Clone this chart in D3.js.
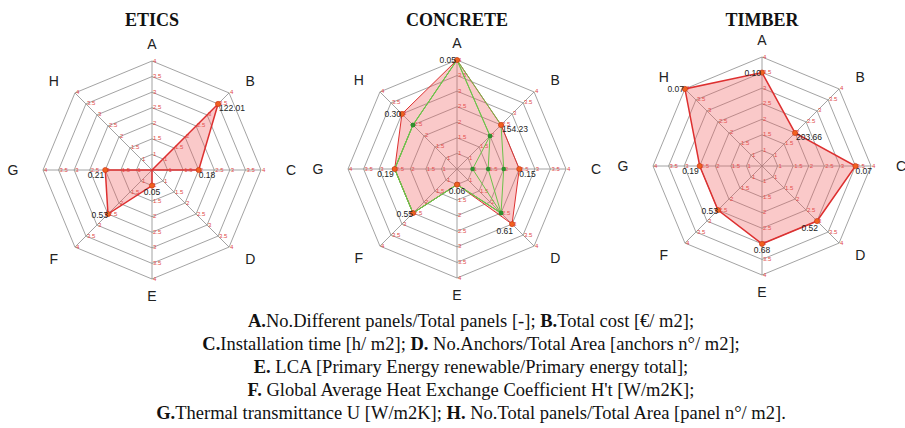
<!DOCTYPE html>
<html>
<head>
<meta charset="utf-8">
<script src="https://cdn.jsdelivr.net/npm/d3@7"></script>
<style>
  body { margin: 0; background: #fff; }
  svg { display: block; }
  .grid { fill: none; stroke: #8c8c8c; stroke-width: 0.8; }
  .spoke { stroke: #8c8c8c; stroke-width: 0.8; }
  .tick { fill: #e04848; font: 6px 'Liberation Sans', Arial, sans-serif; }
  .axis-letter { fill: #222; font: 14px 'Liberation Sans', Arial, sans-serif; }
  .title { font: bold 18px 'Liberation Serif', 'Times New Roman', serif; fill: #111; }
  .value { fill: #222; font: 8.5px 'Liberation Sans', Arial, sans-serif; }
  .caption { font: 18.5px 'Liberation Serif', 'Times New Roman', serif; fill: #111; }
</style>
</head>
<body>
<svg id="chart" width="905" height="428"></svg>
<script>
// axes and ring ticks
const axes = ['A', 'B', 'C', 'D', 'E', 'F', 'G', 'H'];
const ticks = [1, 1.5, 2, 2.5, 3, 3.5, 4];

// plotted scores (0.5 = centre) and the value printed next to each point
const eticsScore = [0.5, 3.5, 2, 0.5, 1, 2.5, 2, 0.5];
const eticsLabels = [null, '122.01', '0.18', null, '0.05', '0.53', '0.21', null];

const concreteScore = [4, 2.5, 2.5, 3, 1, 2.5, 2.5, 3];
const concreteLabels = ['0.05', '154.23', '0.15', '0.61', '0.06', '0.55', '0.19', '0.30'];
const concreteAlt1 = [4, 2.5, 2, 2.5, 1, 2.5, 2.5, 2.5];
const concreteAlt2 = [4, 2, 1.5, 2.5, 1, 2.5, 2.5, 2.5];
const concreteAlt3 = [4, 2, 1, 2.5, 1, 2.5, 2.5, 2.5];

const timberScore = [3.5, 2, 3.5, 3, 3, 2.5, 2.5, 4];
const timberLabels = ['0.10', '203.66', '0.07', '0.52', '0.68', '0.53', '0.19', '0.07'];

const captionLines = [
    [['A.', true], ['No.Different panels/Total panels [-]; ', false], ['B.', true], ['Total cost [€/ m2];', false]],
    [['C.', true], ['Installation time [h/ m2]; ', false], ['D.', true], [' No.Anchors/Total Area [anchors n°/ m2];', false]],
    [['E.', true], [' LCA [Primary Energy renewable/Primary energy total];', false]],
    [['F.', true], [' Global Average Heat Exchange Coefficient H\'t [W/m2K];', false]],
    [['G.', true], ['Thermal transmittance U [W/m2K]; ', false], ['H.', true], [' No.Total panels/Total Area [panel n°/ m2].', false]]
];

// where the value text sits relative to its point, per axis
const valuePos = [
    { anchor: 'end', dx: -1, dy: 3 },
    { anchor: 'start', dx: 1, dy: 7 },
    { anchor: 'start', dx: 0, dy: 8 },
    { anchor: 'end', dx: 1, dy: 10 },
    { anchor: 'middle', dx: 0, dy: 9 },
    { anchor: 'end', dx: 0, dy: 4 },
    { anchor: 'end', dx: -1, dy: 8 },
    { anchor: 'end', dx: -1, dy: 3 }
];

const svg = d3.select('#chart');
const R = 109;
const r = d3.scaleLinear().domain([0.5, 4]).range([0, R]);
const angle = d3.scaleLinear().domain([0, axes.length]).range([0, 2 * Math.PI]);

function pt(i, v) {
    const a = angle(i);
    return [Math.sin(a) * r(v), -Math.cos(a) * r(v)];
}

const radial = d3.lineRadial()
    .angle(function(d, i) { return angle(i); })
    .radius(function(d) { return r(d); })
    .curve(d3.curveLinearClosed);

function radar(cx, cy, title, score, labels, alts) {
    const g = svg.append('g').attr('transform', `translate(${cx}, ${cy})`);

    svg.append('text')
        .attr('class', 'title')
        .attr('x', cx)
        .attr('y', 26)
        .attr('text-anchor', 'middle')
        .text(title);

    // octagon rings
    g.selectAll('.grid')
        .data(ticks)
        .join('path')
        .attr('class', 'grid')
        .attr('d', function(t) { return radial(axes.map(() => t)); });

    g.selectAll('.spoke')
        .data(axes)
        .join('line')
        .attr('class', 'spoke')
        .attr('x1', 0).attr('y1', 0)
        .attr('x2', function(d, i) { return pt(i, 4)[0]; })
        .attr('y2', function(d, i) { return pt(i, 4)[1]; });

    // red tick numbers on every spoke
    axes.forEach(function(a, i) {
        g.selectAll(null)
            .data(ticks)
            .join('text')
            .attr('class', 'tick')
            .attr('x', function(t) { return pt(i, t)[0] + 1; })
            .attr('y', function(t) { return pt(i, t)[1] + 1.5; })
            .text(function(t) { return t; });
    });

    g.selectAll('.axis-letter')
        .data(axes)
        .join('text')
        .attr('class', 'axis-letter')
        .attr('text-anchor', 'middle')
        .attr('dy', '0.36em')
        .attr('x', function(d, i) { return Math.sin(angle(i)) * 139; })
        .attr('y', function(d, i) { return -Math.cos(angle(i)) * 126; })
        .text(function(d) { return d; });

    g.append('path')
        .attr('d', radial(score))
        .attr('fill', 'rgba(240, 90, 90, 0.33)')
        .attr('stroke', '#dd3030')
        .attr('stroke-width', alts ? 1 : 1.5);

    (alts || []).forEach(function(s) {
        g.append('path')
            .attr('d', radial(s))
            .attr('fill', 'none')
            .attr('stroke', '#6cc24a')
            .attr('stroke-width', 1);
        g.selectAll(null)
            .data(s)
            .join('circle')
            .attr('cx', function(v, i) { return pt(i, v)[0]; })
            .attr('cy', function(v, i) { return pt(i, v)[1]; })
            .attr('r', 2.3)
            .attr('fill', '#2f8f2f');
    });

    const shown = score.map(function(v, i) { return { v: v, i: i, label: labels[i] }; })
        .filter(function(d) { return d.label !== null; });

    g.selectAll('.dot')
        .data(shown)
        .join('circle')
        .attr('class', 'dot')
        .attr('cx', function(d) { return pt(d.i, d.v)[0]; })
        .attr('cy', function(d) { return pt(d.i, d.v)[1]; })
        .attr('r', 2.6)
        .attr('fill', '#f06020')
        .attr('stroke', '#c83010')
        .attr('stroke-width', 0.6);

    g.selectAll('.value')
        .data(shown)
        .join('text')
        .attr('class', 'value')
        .attr('text-anchor', function(d) { return valuePos[d.i].anchor; })
        .attr('x', function(d) { return pt(d.i, d.v)[0] + valuePos[d.i].dx; })
        .attr('y', function(d) { return pt(d.i, d.v)[1] + valuePos[d.i].dy; })
        .text(function(d) { return d.label; });
}

radar(152, 170, 'ETICS', eticsScore, eticsLabels);
radar(457, 169, 'CONCRETE', concreteScore, concreteLabels, [concreteAlt1, concreteAlt2, concreteAlt3]);
radar(762, 166, 'TIMBER', timberScore, timberLabels);

// caption under the charts
const cap = svg.append('text')
    .attr('class', 'caption')
    .attr('text-anchor', 'middle');

captionLines.forEach(function(line, li) {
    const t = cap.append('tspan')
        .attr('x', 471)
        .attr('y', 327 + li * 23);
    line.forEach(function(part) {
        t.append('tspan')
            .attr('font-weight', part[1] ? 'bold' : null)
            .text(part[0]);
    });
});
</script>
</body>
</html>
